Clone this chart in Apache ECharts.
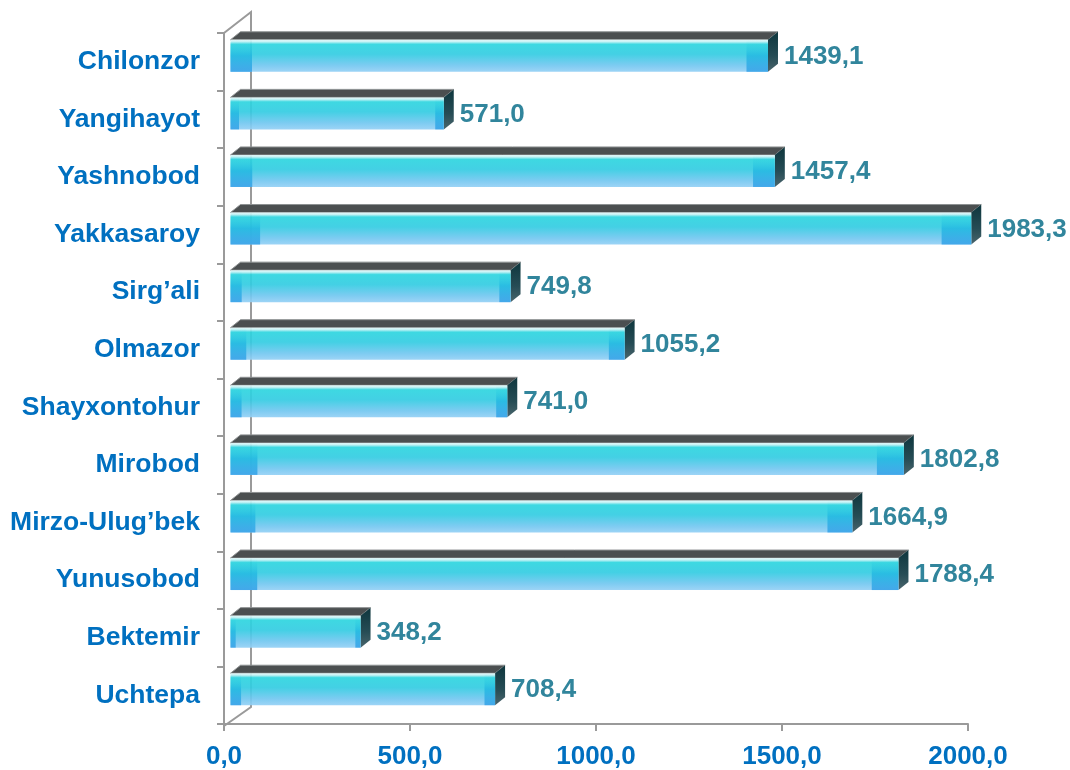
<!DOCTYPE html>
<html>
<head>
<meta charset="utf-8">
<script src="https://cdn.jsdelivr.net/npm/echarts@6/dist/echarts.min.js"></script>
<style>
html,body{margin:0;padding:0;background:#fff;}
#main{width:1070px;height:770px;}
</style>
</head>
<body>
<div id="main"></div>
<script>
const categories = ['Chilonzor','Yangihayot','Yashnobod','Yakkasaroy','Sirg\u2019ali','Olmazor','Shayxontohur','Mirobod','Mirzo-Ulug\u2019bek','Yunusobod','Bektemir','Uchtepa'];
const values = [1439.1, 571.0, 1457.4, 1983.3, 749.8, 1055.2, 741.0, 1802.8, 1664.9, 1788.4, 348.2, 708.4];
const xTicks = [0, 500, 1000, 1500, 2000];

const fmt = v => v.toFixed(1).replace('.', ',');
const FONT = '"Liberation Sans", Arial, sans-serif';
const GRID = {left: 224, right: 102, top: 33, bottom: 44};
const AXIS_COLOR = '#9a9a9a';

const chart = echarts.init(document.getElementById('main'), null, {renderer: 'canvas'});

const DX = 10, DY = -8, FACE_H = 32, SHIFT_Y = -6, SHIFT_X = 6.5;

function renderItem(params, api) {
  const v = api.value(0);
  const ci = api.value(1);
  const p0 = api.coord([0, ci]);
  const p1 = api.coord([v, ci]);
  const x0 = p0[0] + SHIFT_X;
  const x1 = x0 + (p1[0] - p0[0]) * 1.004;
  const cy = p0[1] + SHIFT_Y;
  const yt = cy - FACE_H / 2;
  const yb = cy + FACE_H / 2;
  const len = x1 - x0;
  const sw = Math.max(5, len * 0.04);
  const stripGrad = new echarts.graphic.LinearGradient(0, 0, 0, 1, [
    {offset: 0, color: 'rgba(200,242,246,0)'},
    {offset: 0.15, color: 'rgba(40,205,224,0.3)'},
    {offset: 0.5, color: 'rgba(30,180,225,0.85)'},
    {offset: 1, color: 'rgba(52,160,232,1)'}
  ]);
  return {
    type: 'group',
    children: [
      {
        type: 'polygon',
        shape: {points: [[x0, yt], [x0 + DX, yt + DY], [x1 + DX, yt + DY], [x1, yt]]},
        style: {fill: '#4b4f50', stroke: '#8d9192', lineWidth: 1}
      },
      {
        type: 'polygon',
        shape: {points: [[x1, yt], [x1 + DX, yt + DY], [x1 + DX, yb + DY], [x1, yb]]},
        style: {
          fill: new echarts.graphic.LinearGradient(0, 0, 0, 1, [
            {offset: 0, color: '#0e363d'},
            {offset: 0.6, color: '#264c55'},
            {offset: 1, color: '#4a656c'}
          ])
        }
      },
      {
        type: 'rect',
        shape: {x: x0, y: yt, width: len, height: FACE_H},
        style: {
          opacity: 0.92,
          fill: new echarts.graphic.LinearGradient(0, 0, 0, 1, [
            {offset: 0, color: '#e4fafb'},
            {offset: 0.06, color: '#c2f1f4'},
            {offset: 0.14, color: '#2dd5df'},
            {offset: 0.45, color: '#33cce2'},
            {offset: 0.8, color: '#72c7f0'},
            {offset: 1, color: '#94d0f5'}
          ])
        }
      },
      {
        type: 'rect',
        shape: {x: x0, y: yt, width: sw, height: FACE_H},
        style: {fill: stripGrad, opacity: 0.85}
      },
      {
        type: 'rect',
        shape: {x: x1 - sw, y: yt, width: sw, height: FACE_H},
        style: {fill: stripGrad, opacity: 0.85}
      },
      {
        type: 'text',
        style: {
          x: x1 + DX + 6, y: cy + 1,
          text: fmt(v),
          fill: '#31859c',
          font: 'bold 26px ' + FONT,
          verticalAlign: 'middle',
          align: 'left'
        }
      }
    ]
  };
}

const plotH = 770 - GRID.top - GRID.bottom;
const plotB = GRID.top + plotH;
const L = GRID.left;

const option = {
  animation: false,
  backgroundColor: '#ffffff',
  grid: GRID,
  xAxis: {
    type: 'value',
    min: xTicks[0],
    max: xTicks[xTicks.length - 1],
    interval: xTicks[1] - xTicks[0],
    axisLine: {show: true, lineStyle: {color: AXIS_COLOR, width: 2}},
    axisTick: {show: true, length: 7, lineStyle: {color: AXIS_COLOR, width: 2}},
    splitLine: {show: false},
    axisLabel: {
      formatter: fmt, color: '#0070c0', fontWeight: 'bold', fontSize: 26,
      fontFamily: FONT, margin: 20
    }
  },
  yAxis: {
    type: 'category',
    data: categories,
    inverse: true,
    axisLine: {show: true, lineStyle: {color: AXIS_COLOR, width: 2}},
    axisTick: {show: true, length: 7, lineStyle: {color: AXIS_COLOR, width: 2}},
    splitLine: {show: false},
    axisLabel: {
      color: '#0070c0', fontWeight: 'bold', fontSize: 26.5,
      fontFamily: FONT, margin: 24
    }
  },
  graphic: [{
    type: 'polyline',
    z: 0,
    shape: {points: [[L, GRID.top], [L + 27, GRID.top - 21], [L + 27, plotB - 19], [L, plotB]]},
    style: {stroke: AXIS_COLOR, lineWidth: 2, fill: null}
  }],
  series: [{
    type: 'custom',
    z: 5,
    renderItem: renderItem,
    encode: {x: 0, y: 1},
    data: values.map((v, i) => [v, i]),
    clip: false
  }]
};
chart.setOption(option);
</script>
</body>
</html>
